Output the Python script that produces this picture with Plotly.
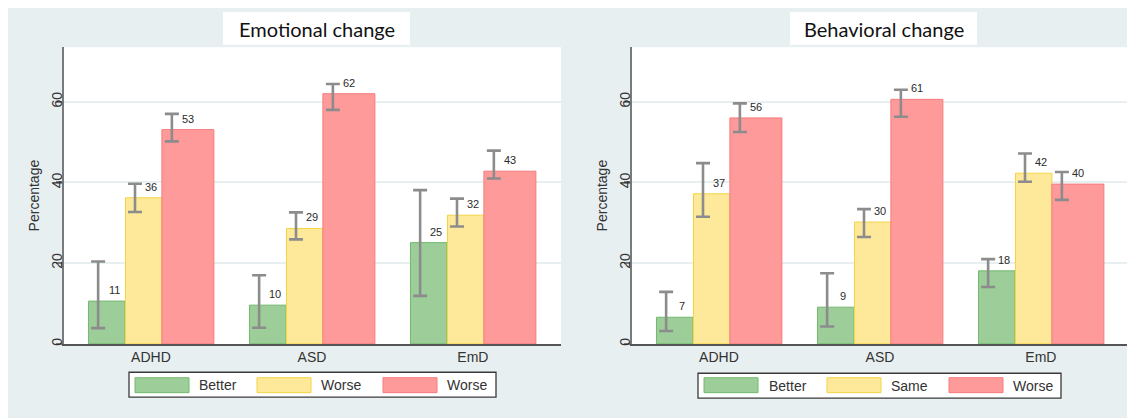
import plotly.graph_objects as go

# ---------------- data ----------------
categories = ["ADHD", "ASD", "EmD"]
panel_titles = ["Emotional change", "Behavioral change"]
series_emotional = ["Better", "Worse", "Worse"]
series_behavioral = ["Better", "Same", "Worse"]
y_tick_values = [0, 20, 40, 60]
y_axis_title = "Percentage"

# Emotional change (value, lower CI, upper CI)
emo_better = [10.6, 9.6, 25.1]
emo_better_lo = [3.9, 4.0, 11.9]
emo_better_hi = [20.4, 17.0, 38.1]
emo_mid = [36.2, 28.6, 31.9]
emo_mid_lo = [32.7, 25.9, 29.1]
emo_mid_hi = [39.7, 32.6, 36.0]
emo_worse = [53.1, 62.0, 42.8]
emo_worse_lo = [50.2, 58.0, 41.0]
emo_worse_hi = [57.0, 64.4, 47.9]

# Behavioral change (value, lower CI, upper CI)
beh_better = [6.6, 9.1, 18.1]
beh_better_lo = [3.2, 4.3, 14.1]
beh_better_hi = [12.9, 17.5, 21.0]
beh_same = [37.2, 30.2, 42.3]
beh_same_lo = [31.5, 26.5, 40.2]
beh_same_hi = [44.8, 33.4, 47.2]
beh_worse = [56.0, 60.6, 39.6]
beh_worse_lo = [52.5, 56.3, 35.7]
beh_worse_hi = [59.6, 63.0, 42.6]

# ---------------- style ----------------
W, H = 1135, 418
OX, OY = 8, 8  # page body margin offset of the plot div
fills = ["#9dcd99", "#fee99b", "#ff9a9a"]
edges = ["#72ba6e", "#f3d445", "#f57c7c"]
bar_offsets = [-0.388, -0.158, 0.068]
bar_widths = [0.228, 0.226, 0.323]
err_offsets = [-0.328, -0.099, 0.13]
label_offsets = [-0.228, 0.0, 0.228]
panel_bg = "#e8eff1"
err_color = "#8c8c8c"
text_color = "#333333"
axis_font = "Liberation Sans"
title_font = "Lato"


def fx(px):
    return (px - OX) / W


def fy(py):
    return 1 - (py - OY) / H


panels = [
    dict(
        names=series_emotional,
        vals=[emo_better, emo_mid, emo_worse],
        los=[emo_better_lo, emo_mid_lo, emo_worse_lo],
        his=[emo_better_hi, emo_mid_hi, emo_worse_hi],
        xdom=(64, 561), bg=(8, 7, 575, 430), title_box=(223, 12, 410, 45),
        legend_box=(129, 374, 496, 399), legend_sym=[135, 257, 383], legend_txt=[197, 319, 445],
    ),
    dict(
        names=series_behavioral,
        vals=[beh_better, beh_same, beh_worse],
        los=[beh_better_lo, beh_same_lo, beh_worse_lo],
        his=[beh_better_hi, beh_same_hi, beh_worse_hi],
        xdom=(632, 1129), bg=(575, 8, 1150, 430), title_box=(790, 12, 977, 45),
        legend_box=(698, 375, 1061, 400), legend_sym=[704, 827, 949], legend_txt=[767, 889, 1011],
    ),
]

ydom = (fy(345.5), fy(47.5))
xs = list(range(len(categories)))

fig = go.Figure()
shapes = []
annotations = []

for p_i, p in enumerate(panels):
    sfx = "" if p_i == 0 else "2"
    xref = "x" + sfx
    yref = "y" + sfx
    for s_i in range(3):
        fig.add_trace(go.Bar(
            x=xs, y=p["vals"][s_i], name=p["names"][s_i],
            offset=bar_offsets[s_i], width=bar_widths[s_i],
            marker=dict(color=fills[s_i], line=dict(color=edges[s_i], width=1)),
            xaxis=xref, yaxis=yref, showlegend=False, hoverinfo="skip",
        ))
    for s_i in range(3):
        v = p["vals"][s_i]
        fig.add_trace(go.Scatter(
            x=[c + err_offsets[s_i] for c in xs], y=v, mode="markers",
            marker=dict(size=1, opacity=0),
            error_y=dict(
                type="data", symmetric=False,
                array=[h - y for h, y in zip(p["his"][s_i], v)],
                arrayminus=[y - l for l, y in zip(p["los"][s_i], v)],
                color=err_color, thickness=2.6, width=7,
            ),
            xaxis=xref, yaxis=yref, showlegend=False, hoverinfo="skip",
        ))
        for c, y in zip(xs, v):
            annotations.append(dict(
                x=c + label_offsets[s_i], y=y, xref=xref, yref=yref,
                text=str(int(round(y))), showarrow=False, yshift=11,
                xanchor="center", yanchor="middle",
                font=dict(family=axis_font, size=11, color="#2b2b2b"),
            ))

    # panel background
    x0, y0, x1, y1 = p["bg"]
    shapes.append(dict(type="rect", xref="paper", yref="paper", layer="below",
                       x0=fx(x0), x1=fx(x1), y0=fy(y1), y1=fy(y0),
                       fillcolor=panel_bg, line=dict(width=0)))
    # white plot area
    shapes.append(dict(type="rect", xref="paper", yref="paper", layer="below",
                       x0=fx(p["xdom"][0]), x1=fx(p["xdom"][1]), y0=ydom[0], y1=ydom[1],
                       fillcolor="white", line=dict(width=0)))
    # title box
    tx0, ty0, tx1, ty1 = p["title_box"]
    shapes.append(dict(type="rect", xref="paper", yref="paper", layer="below",
                       x0=fx(tx0), x1=fx(tx1), y0=fy(ty1), y1=fy(ty0),
                       fillcolor="white", line=dict(width=0)))
    annotations.append(dict(
        x=fx((tx0 + tx1) / 2), y=fy((ty0 + ty1) / 2 + 1), xref="paper", yref="paper",
        text=panel_titles[p_i], showarrow=False, xanchor="center", yanchor="middle",
        font=dict(family=title_font, size=20, color="#111111"),
    ))
    # legend
    lx0, ly0, lx1, ly1 = p["legend_box"]
    shapes.append(dict(type="rect", xref="paper", yref="paper", layer="above",
                       x0=fx(lx0), x1=fx(lx1), y0=fy(ly1), y1=fy(ly0),
                       fillcolor="rgba(0,0,0,0)", line=dict(color="#3a3a3a", width=1.3)))
    shapes.append(dict(type="rect", xref="paper", yref="paper", layer="below",
                       x0=fx(lx0), x1=fx(lx1), y0=fy(ly1), y1=fy(ly0),
                       fillcolor="white", line=dict(width=0)))
    for s_i in range(3):
        sx = p["legend_sym"][s_i]
        shapes.append(dict(type="rect", xref="paper", yref="paper", layer="above",
                           x0=fx(sx), x1=fx(sx + 54), y0=fy(394.5), y1=fy(379.5),
                           fillcolor=fills[s_i], line=dict(color=edges[s_i], width=1)))
        annotations.append(dict(
            x=fx(p["legend_txt"][s_i]), y=fy(387 + (p_i * 1)), xref="paper", yref="paper",
            text=p["names"][s_i], showarrow=False, xanchor="left", yanchor="middle",
            font=dict(family=axis_font, size=14, color=text_color),
        ))

axis_common_x = dict(
    tickvals=xs, ticktext=categories, range=[-0.54, 2.547],
    showgrid=False, zeroline=False, showline=True, linecolor="#555555", linewidth=1.5,
    ticks="", tickfont=dict(family=axis_font, size=14, color=text_color), fixedrange=True,
)
axis_common_y = dict(
    range=[0, 73.5], tickvals=y_tick_values, domain=list(ydom),
    showgrid=True, gridcolor="#e8eff1", gridwidth=1.5, zeroline=False,
    showline=True, linecolor="#7a7a7a", linewidth=2,
    ticks="outside", ticklen=6, tickwidth=1.5, tickcolor="#7a7a7a", tickangle=-90,
    ticklabelstandoff=-12,
    tickfont=dict(family=axis_font, size=14, color=text_color),
    title=dict(text=y_axis_title, font=dict(family=axis_font, size=14, color=text_color), standoff=6),
    fixedrange=True,
)

fig.update_layout(
    width=W, height=H, margin=dict(l=0, r=0, t=0, b=0),
    paper_bgcolor="white", plot_bgcolor="rgba(0,0,0,0)",
    font=dict(family=axis_font),
    barmode="overlay", showlegend=False,
    xaxis=dict(domain=[fx(panels[0]["xdom"][0]), fx(panels[0]["xdom"][1])], anchor="y", **axis_common_x),
    xaxis2=dict(domain=[fx(panels[1]["xdom"][0]), fx(panels[1]["xdom"][1])], anchor="y2", **axis_common_x),
    yaxis=dict(anchor="x", **axis_common_y),
    yaxis2=dict(anchor="x2", **axis_common_y),
    shapes=shapes, annotations=annotations,
)

fig.write_html("out.html")
